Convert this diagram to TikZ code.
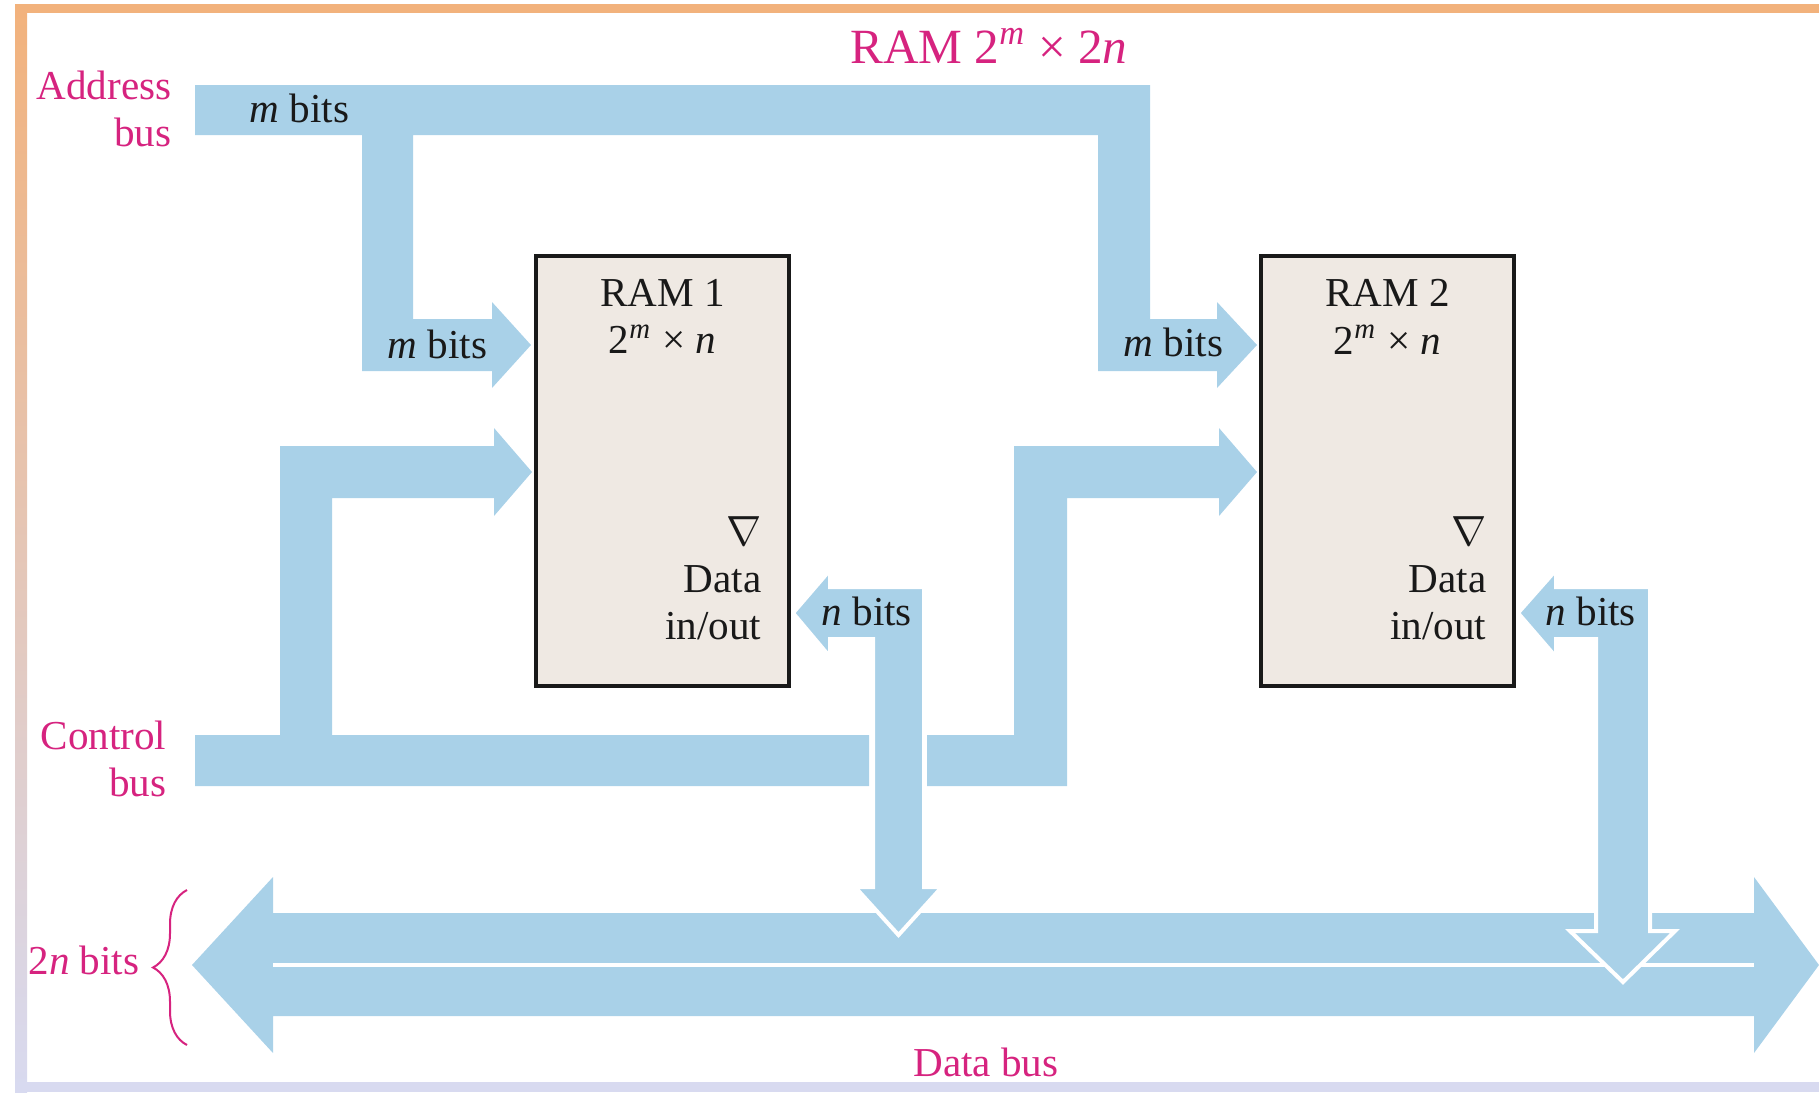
\documentclass[tikz,border=0pt]{standalone}
\usepackage{fontspec}
\setmainfont{Liberation Serif}
\usetikzlibrary{positioning, decorations.pathreplacing}
\definecolor{BusBlue}{HTML}{A9D1E8}
\definecolor{LabelPink}{HTML}{D6237F}
\definecolor{RamFill}{HTML}{EFE9E3}
\definecolor{FrameOrange}{HTML}{F2B27C}
\definecolor{FrameLav}{HTML}{D8DAF0}

\begin{document}
\begin{tikzpicture}[x=0.1mm, y=-0.1mm,
  bus/.style={fill=BusBlue},
  buswhite/.style={fill=BusBlue, draw=white, line width=0.4mm},
  ram/.style={draw=black!90, fill=RamFill, line width=0.4mm, minimum width=25.3mm, minimum height=43mm, inner sep=0pt},
  txt/.style={font=\fontsize{11.7}{13.4}\selectfont, inner sep=0pt, text=black!90},
  pink/.style={txt, text=LabelPink}]
  \useasboundingbox (0,0) rectangle (1819,1092);
  \fill[FrameOrange] (15,4) rectangle (1819,13);
  \shade[top color=FrameOrange, bottom color=FrameLav] (15,4) rectangle (27,1092);
  \fill[FrameLav] (15,1082) rectangle (1819,1092);

  % data bus, two halves
  \fill[bus] (192,965) -- (273,877) -- (273,913) -- (1754,913) -- (1754,877) -- (1819,965)
    -- (1754,1053) -- (1754,1016) -- (273,1016) -- (273,1053) -- cycle;
  \draw[white, line width=0.45mm] (273,965) -- (1754,965);

  % address bus
  \fill[bus] (195,85) -- (1150,85) -- (1150,319) -- (1217,319) -- (1217,302) -- (1257,345)
    -- (1217,388) -- (1217,371) -- (1098,371) -- (1098,135) -- (413,135) -- (413,319)
    -- (492,319) -- (492,302) -- (531,345) -- (492,388) -- (492,371) -- (362,371)
    -- (362,135) -- (195,135) -- cycle;

  % control bus
  \fill[bus] (195,735) -- (280,735) -- (280,446) -- (494,446) -- (494,428) -- (532,472)
    -- (494,516) -- (494,498) -- (332,498) -- (332,735) -- (869,735) -- (869,786)
    -- (195,786) -- cycle;
  \fill[bus] (927,735) -- (1014,735) -- (1014,446) -- (1219,446) -- (1219,428) -- (1257,472)
    -- (1219,516) -- (1219,498) -- (1067,498) -- (1067,786) -- (927,786) -- cycle;

  % data in/out
  \filldraw[buswhite] (793,613) -- (830,570) -- (830,587) -- (924,587) -- (924,887) -- (942,887)
    -- (898.5,935) -- (855,887) -- (873,887) -- (873,639) -- (830,639) -- (830,657) -- cycle;
  \filldraw[buswhite] (1518,613) -- (1556,570) -- (1556,587) -- (1650,587) -- (1650,931)
    -- (1675,931) -- (1623,982) -- (1570,931) -- (1596,931) -- (1596,639) -- (1556,639)
    -- (1556,657) -- cycle;

  \foreach \i/\x in {1/662.5, 2/1387.5} {
    \node[ram] (ram\i) at (\x,471) {};
    \node[txt, align=center, below=2.5mm of ram\i.north] (ram\i name)
      {RAM \i\\2\textsuperscript{\textit{m}} × \textit{n}};
    \node[txt, align=right, above left=4.7mm and 2.9mm of ram\i.south east] (ram\i io)
      {$\nabla$\\Data\\in/out};
  }

  \node[pink, font=\fontsize{14}{16}\selectfont, anchor=base] (title) at (989,63)
    {RAM 2\textsuperscript{\textit{m}} × 2\textit{n}};
  \node[pink, align=right, anchor=north east] (addrlbl) at (172,70) {Address\\bus};
  \node[pink, align=right, anchor=north east] (ctrllbl) at (167,720) {Control\\bus};
  \node[pink, anchor=base east] (widthlbl) at (140,974) {2\textit{n} bits};
  \node[pink, anchor=base] (datalbl) at (986,1076) {Data bus};
  \draw[LabelPink, line width=0.2mm, decorate, decoration={brace, amplitude=3.4mm}]
    (187,1045) -- (187,890);

  \node[txt, anchor=base west] (abits) at (249,122) {\textit{m} bits};
  \node[txt, anchor=base west] (abits1) at (387,358) {\textit{m} bits};
  \node[txt, anchor=base west] (abits2) at (1123,356) {\textit{m} bits};
  \node[txt, anchor=base west] (dbits1) at (821,625) {\textit{n} bits};
  \node[txt, anchor=base west] (dbits2) at (1545,625) {\textit{n} bits};
\end{tikzpicture}
\end{document}
